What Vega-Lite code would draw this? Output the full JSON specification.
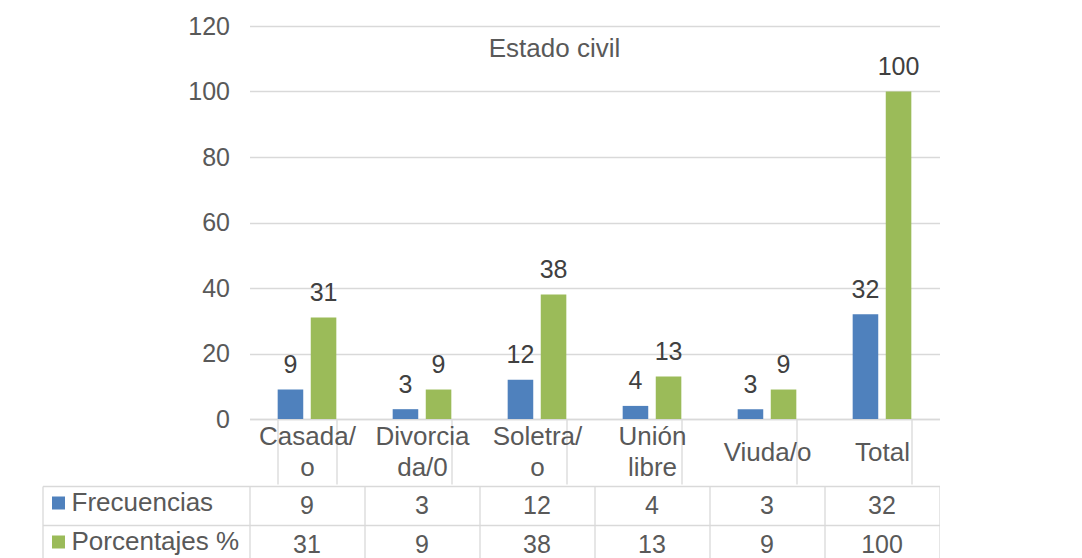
{
  "$schema": "https://vega.github.io/schema/vega-lite/v6.json",
  "padding": {"left": 41.5, "top": 14, "right": 0, "bottom": 0},
  "background": "white",
  "config": {
    "font": "Liberation Sans",
    "view": {"stroke": null},
    "concat": {"spacing": 0},
    "axis": {"labelFont": "Liberation Sans", "labelColor": "#595959", "labelFontSize": 25}
  },
  "datasets": {
    "d": [
      {"estado": "Casada/o", "serie": "Frecuencias", "valor": 9},
      {"estado": "Casada/o", "serie": "Porcentajes %", "valor": 31},
      {"estado": "Divorciada/0", "serie": "Frecuencias", "valor": 3},
      {"estado": "Divorciada/0", "serie": "Porcentajes %", "valor": 9},
      {"estado": "Soletra/o", "serie": "Frecuencias", "valor": 12},
      {"estado": "Soletra/o", "serie": "Porcentajes %", "valor": 38},
      {"estado": "Unión libre", "serie": "Frecuencias", "valor": 4},
      {"estado": "Unión libre", "serie": "Porcentajes %", "valor": 13},
      {"estado": "Viuda/o", "serie": "Frecuencias", "valor": 3},
      {"estado": "Viuda/o", "serie": "Porcentajes %", "valor": 9},
      {"estado": "Total", "serie": "Frecuencias", "valor": 32},
      {"estado": "Total", "serie": "Porcentajes %", "valor": 100}
    ]
  },
  "vconcat": [
    {
      "width": 690,
      "height": 393,
      "data": {"name": "d"},
      "title": {
        "text": "Estado civil",
        "anchor": "middle",
        "frame": "group",
        "fontSize": 26,
        "fontWeight": "normal",
        "color": "#595959",
        "font": "Liberation Sans",
        "dx": -40,
        "offset": -48
      },
      "encoding": {
        "x": {
          "field": "estado",
          "type": "nominal",
          "sort": ["Casada/o", "Divorciada/0", "Soletra/o", "Unión libre", "Viuda/o", "Total"],
          "scale": {"paddingInner": 0.49, "paddingOuter": 0.245},
          "axis": {
            "title": null,
            "orient": "bottom",
            "labelAngle": 0,
            "labelExpr": "{'Casada/o': ['Casada/', 'o'], 'Divorciada/0': ['Divorcia', 'da/0'], 'Soletra/o': ['Soletra/', 'o'], 'Unión libre': ['Unión', 'libre']}[datum.value] || datum.value",
            "labelBaseline": "middle",
            "labelLineHeight": 31,
            "labelPadding": {"condition": {"test": "datum.value == 'Viuda/o' || datum.value == 'Total'", "value": -32}, "value": -47.5},
            "labelColor": "#595959",
            "labelFontSize": 26,
            "labelLimit": 200,
            "tickBand": "extent",
            "tickSize": 65,
            "tickColor": "#d9d9d9",
            "tickWidth": 1.3,
            "domainColor": "#d9d9d9",
            "domainWidth": 1.3,
            "grid": false
          }
        },
        "xOffset": {
          "field": "serie",
          "type": "nominal",
          "sort": ["Frecuencias", "Porcentajes %"],
          "scale": {"paddingInner": 0.227, "paddingOuter": 0}
        },
        "y": {
          "field": "valor",
          "type": "quantitative",
          "scale": {"domain": [0, 120], "nice": false},
          "axis": {
            "title": null,
            "values": [0, 20, 40, 60, 80, 100, 120],
            "ticks": false,
            "domain": false,
            "labelPadding": 20,
            "gridColor": "#d9d9d9",
            "gridWidth": 1.3
          }
        }
      },
      "layer": [
        {
          "mark": {"type": "bar"},
          "encoding": {
            "color": {
              "field": "serie",
              "type": "nominal",
              "scale": {"domain": ["Frecuencias", "Porcentajes %"], "range": ["#4f81bd", "#9bbb59"]},
              "legend": {
                "orient": "none",
                "legendX": -204,
                "legendY": 464,
                "title": null,
                "symbolType": "square",
                "symbolSize": 169,
                "symbolStrokeWidth": 0,
                "labelFontSize": 26,
                "labelColor": "#595959",
                "labelFont": "Liberation Sans",
                "labelOffset": 0,
                "labelLimit": 300,
                "rowPadding": 13,
                "padding": 0
              }
            }
          }
        },
        {
          "mark": {"type": "text", "baseline": "alphabetic", "dy": -16.5, "fontSize": 25, "color": "#404040"},
          "encoding": {"text": {"field": "valor", "type": "quantitative"}}
        }
      ]
    },
    {
      "width": 690,
      "height": 78,
      "data": {"name": "d"},
      "mark": {"type": "text", "fontSize": 25, "color": "#595959", "baseline": "middle"},
      "encoding": {
        "x": {
          "field": "estado",
          "type": "nominal",
          "sort": ["Casada/o", "Divorciada/0", "Soletra/o", "Unión libre", "Viuda/o", "Total"],
          "scale": {"paddingInner": 0, "paddingOuter": 0},
          "axis": {
            "title": null,
            "orient": "top",
            "labels": false,
            "ticks": false,
            "domain": false,
            "grid": true,
            "tickBand": "extent",
            "gridColor": "#d9d9d9",
            "gridWidth": 1.3
          }
        },
        "y": {
          "field": "serie",
          "type": "nominal",
          "sort": ["Frecuencias", "Porcentajes %"],
          "scale": {"paddingInner": 0, "paddingOuter": 0},
          "axis": {
            "title": null,
            "labels": false,
            "offset": 207,
            "domain": true,
            "domainColor": "#d9d9d9",
            "domainWidth": 1.3,
            "ticks": true,
            "tickSize": -207,
            "tickColor": "#d9d9d9",
            "tickWidth": 1.3,
            "tickBand": "extent",
            "grid": true,
            "gridColor": "#d9d9d9",
            "gridWidth": 1.3
          }
        },
        "text": {"field": "valor", "type": "quantitative"}
      }
    }
  ]
}
